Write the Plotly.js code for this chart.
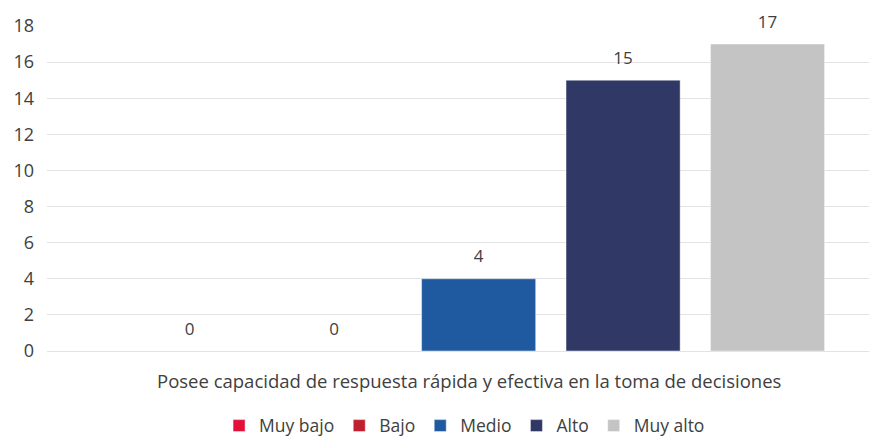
<!DOCTYPE html>
<html>
<head>
<meta charset="utf-8">
<script src="https://cdn.plot.ly/plotly-3.0.1.min.js"></script>
<style>html,body{margin:0;padding:0;background:#fff;}#chart{width:869px;height:438px;}</style>
</head>
<body>
<div id="chart"></div>
<script>
const categories = ['Posee capacidad de respuesta rápida y efectiva en la toma de decisiones'];
const seriesNames = ['Muy bajo', 'Bajo', 'Medio', 'Alto', 'Muy alto'];
const seriesValues = [[0], [0], [4], [15], [17]];
const seriesColors = ['#E2103A', '#C01F2F', '#1F5AA0', '#303866', '#C5C4C5'];
const yTicks = [0, 2, 4, 6, 8, 10, 12, 14, 16, 18];

const FONT = '"Open Sans", "Noto Sans", sans-serif';
const TXT = '#404040';

const barTraces = seriesNames.map((name, i) => ({
  type: 'bar',
  name: name,
  x: categories,
  y: seriesValues[i],
  marker: {color: seriesColors[i], line: {color: 'rgba(255,255,255,0.45)', width: 1}},
  hoverinfo: 'none'
}));

const labelTraces = seriesNames.map((name, i) => ({
  type: 'scatter',
  mode: 'markers+text',
  name: name + ' label',
  x: categories,
  y: seriesValues[i],
  text: seriesValues[i].map(String),
  textposition: 'top center',
  textfont: {family: FONT, size: 17, color: TXT},
  marker: {size: 18, opacity: 0, color: seriesColors[i]},
  cliponaxis: false,
  showlegend: false,
  hoverinfo: 'none'
}));

const layout = {
  width: 869,
  height: 438,
  margin: {l: 47, r: 0, t: 26, b: 87},
  paper_bgcolor: '#fff',
  plot_bgcolor: '#fff',
  font: {family: FONT, size: 17, color: TXT},
  barmode: 'group',
  bargap: 0.16,
  bargroupgap: 0.21,
  scattermode: 'group',
  scattergap: 0.16,
  showlegend: true,
  legend: {
    orientation: 'h', x: 0.508, xanchor: 'center',
    yref: 'container', y: 0.028, yanchor: 'middle',
    font: {family: FONT, size: 17.5, color: TXT}, traceorder: 'normal'
  },
  xaxis: {
    type: 'category',
    range: [-0.502, 0.454],
    showticklabels: false,
    showgrid: false,
    zeroline: false,
    showline: false,
    ticks: ''
  },
  yaxis: {
    range: [0, 18],
    tickvals: yTicks,
    ticktext: yTicks.map(String),
    showgrid: true,
    gridcolor: '#E3E3E3',
    gridwidth: 1,
    zeroline: true,
    zerolinecolor: '#E3E3E3',
    zerolinewidth: 1,
    showline: false,
    ticks: '',
    ticklabelstandoff: 12,
    tickfont: {family: FONT, size: 18, color: TXT}
  },
  annotations: [{
    text: categories[0], xref: 'paper', yref: 'paper',
    x: 0.513, y: -0.092, xanchor: 'center', yanchor: 'middle',
    showarrow: false, font: {family: FONT, size: 18.5, color: TXT}
  }]
};

Plotly.newPlot('chart', barTraces.concat(labelTraces), layout, {displayModeBar: false, staticPlot: true});
</script>
</body>
</html>
